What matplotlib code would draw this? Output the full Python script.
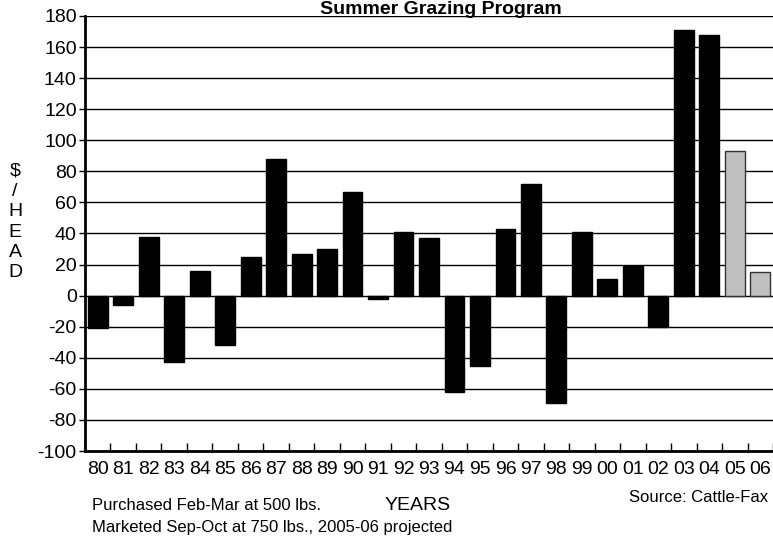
import numpy as np
import matplotlib.pyplot as plt
from matplotlib import font_manager

years = ["80", "81", "82", "83", "84", "85", "86", "87", "88", "89", "90", "91", "92",
         "93", "94", "95", "96", "97", "98", "99", "00", "01", "02", "03", "04", "05", "06"]
values = [-21, -6, 38, -43, 16, -32, 25, 88, 27, 30, 67, -2, 41,
          37, -62, -45, 43, 72, -69, 41, 11, 19, -20, 171, 168, 93, 15]
projected = ["05", "06"]

names = {f.name for f in font_manager.fontManager.ttflist}
fam = "Liberation Sans Narrow" if "Liberation Sans Narrow" in names else "Liberation Sans"
plt.rcParams["font.family"] = [fam, "DejaVu Sans"]
plt.rcParams["axes.unicode_minus"] = False

fig = plt.figure(figsize=(7.73, 5.43), dpi=100)
ax = fig.add_axes([85 / 773, 1 - 451 / 543, 1 - 85 / 773, 435 / 543])

x = np.arange(len(years))
colors = ["#c0c0c0" if y in projected else "black" for y in years]
edges = ["#333333" if y in projected else "black" for y in years]
ax.bar(x, values, width=0.78, color=colors, edgecolor=edges, linewidth=1, zorder=3)

ax.set_ylim(-100, 180)
ax.set_xlim(-0.5, len(years) - 0.5)
ax.set_yticks(range(-100, 181, 20))
ax.yaxis.grid(True, color="black", linewidth=1)
ax.set_axisbelow(True)

ax.set_xticks(x)
ax.set_xticklabels(years)
ax.set_xticks(np.arange(-0.5, len(years), 1), minor=True)
ax.tick_params(axis="x", which="major", length=0, labelsize=14, pad=7)
ax.tick_params(axis="x", which="minor", length=6, width=1, direction="in")
ax.tick_params(axis="y", length=4, width=1, labelsize=14, pad=2)

for s in ["top", "right"]:
    ax.spines[s].set_visible(False)
ax.spines["left"].set_linewidth(2)
ax.spines["bottom"].set_linewidth(2)

fig.text(441 / 773, 1 - 1 / 543, "Summer Grazing Program", ha="center", va="top",
         fontsize=14, fontweight="bold")
fig.text(15 / 773, 1 - 222 / 543, "\\$\n/\nH\nE\nA\nD", ha="center", va="center",
         fontsize=14, linespacing=1.25)
fig.text(92 / 773, 1 - 510 / 543, "Purchased Feb-Mar at 500 lbs.", ha="left", va="baseline", fontsize=12)
fig.text(92 / 773, 1 - 532 / 543, "Marketed Sep-Oct at 750 lbs., 2005-06 projected", ha="left",
         va="baseline", fontsize=12)
fig.text(418 / 773, 1 - 510 / 543, "YEARS", ha="center", va="baseline", fontsize=14)
fig.text(768 / 773, 1 - 502 / 543, "Source: Cattle-Fax", ha="right", va="baseline", fontsize=12)

fig.savefig("out.png", dpi=100)
